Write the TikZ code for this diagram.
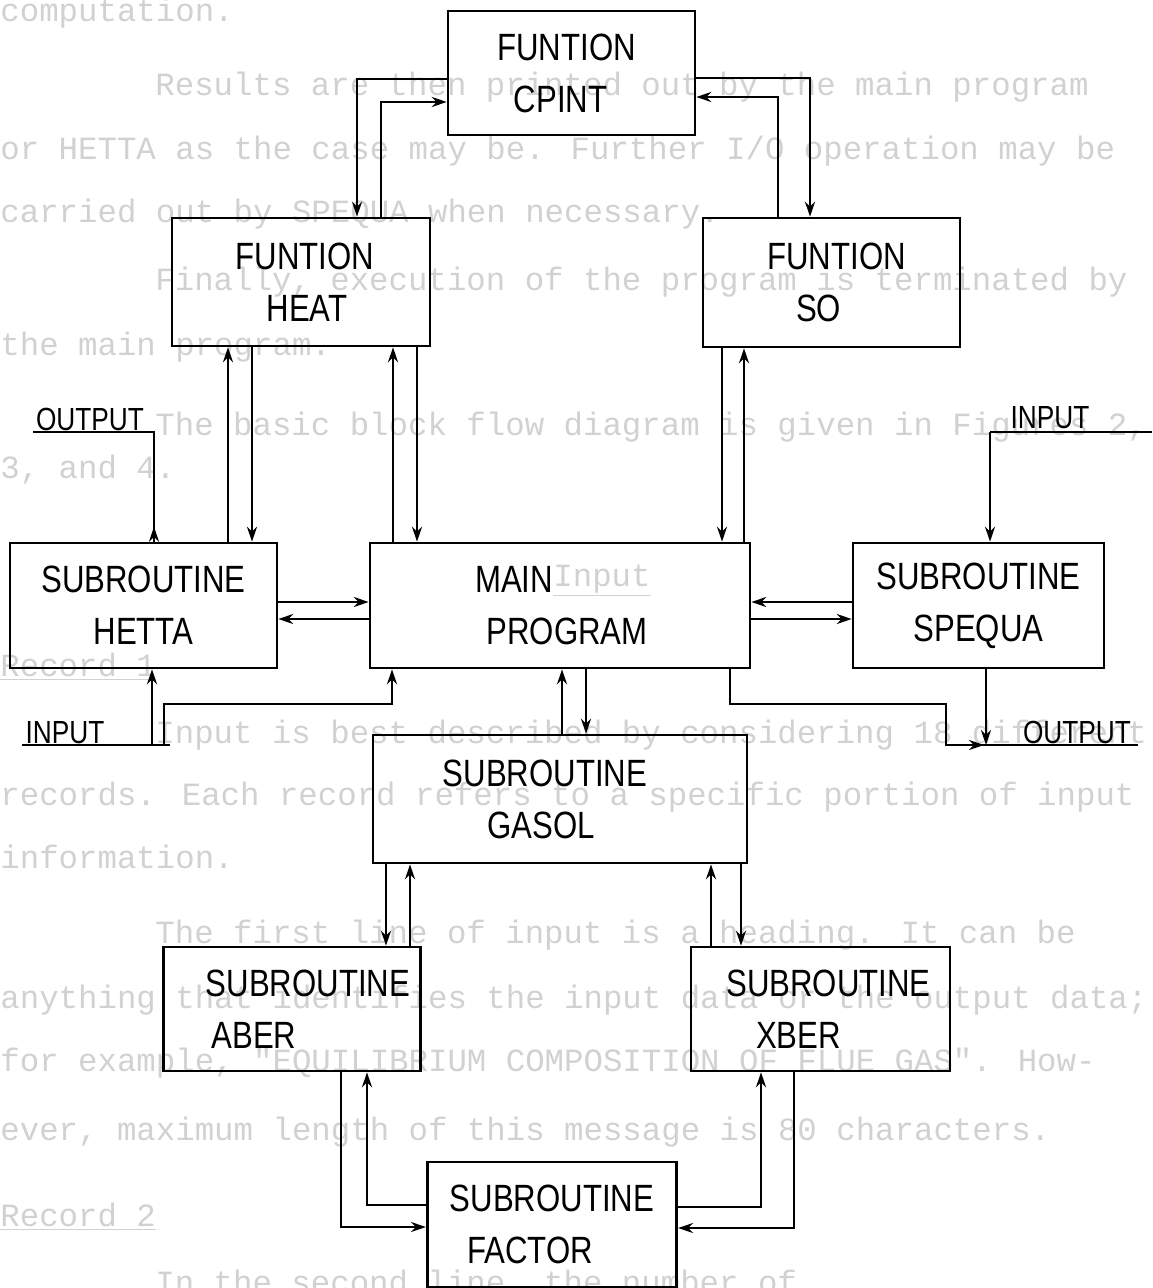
\documentclass[tikz,border=0pt]{standalone}
\usepackage{fontspec}
\setmainfont{Liberation Sans}
\newfontfamily\handfont[FakeStretch=0.82]{Liberation Sans}
\newfontfamily\typefont{Liberation Mono}
\usetikzlibrary{arrows.meta}
\begin{document}
\begin{tikzpicture}[x=0.5pt,y=-0.5pt,
  box/.style={draw, line width=1.3pt, inner sep=0pt, align=center,
    font=\handfont\fontsize{19}{26}\selectfont},
  conn/.style={line width=1.2pt},
  arr/.style={line width=1.2pt, -{Stealth[length=7.5pt,width=5pt]}},
  lab/.style={font=\handfont\fontsize{16}{16}\selectfont, inner sep=0pt},
  ghost/.style={text=black!18, font=\typefont\fontsize{16.2}{16.2}\selectfont,
    anchor=base west, inner sep=0pt}]
\useasboundingbox (0,0) rectangle (1152,1288);

% faint show-through text of the page
\node[ghost] (g1) at (0,22) {computation.};
\node[ghost] (g2) at (155,96) {Results are then printed out by the main program};
\node[ghost] (g3) at (0,160) {or HETTA as the case may be.  Further I/O operation may be};
\node[ghost] (g4) at (0,223) {carried out by SPEQUA when necessary.};
\node[ghost] (g5) at (155,291) {Finally, execution of the program is terminated by};
\node[ghost] (g6) at (0,356) {the main program.};
\node[ghost] (g7) at (155,436) {The basic block flow diagram is given in Figures 2,};
\node[ghost] (g8) at (0,478) {3, and 4.};
\node[ghost] (g9) at (553,586) {\underline{Input}};
\node[ghost] (g10) at (0,676) {\underline{Record 1}};
\node[ghost] (g11) at (155,743) {Input is best described by considering 18 different};
\node[ghost] (g12) at (0,805) {records.  Each record refers to a specific portion of input};
\node[ghost] (g13) at (0,868) {information.};
\node[ghost] (g14) at (155,943) {The first line of input is a heading.  It can be};
\node[ghost] (g15) at (0,1008) {anything that identifies the input data or the output data;};
\node[ghost] (g16) at (0,1071) {for example, "EQUILIBRIUM COMPOSITION OF FLUE GAS".  How-};
\node[ghost] (g17) at (0,1140) {ever, maximum length of this message is 80 characters.};
\node[ghost] (g18) at (0,1226) {\underline{Record 2}};
\node[ghost] (g19) at (155,1293) {In the second line, the number of};

% boxes
\node[box, minimum width=123.5pt, minimum height=62pt] (cpint) at (571.5,73)
  {FUNTION\hspace*{5pt}\\CPINT\hspace*{11pt}};
\node[box, minimum width=129pt, minimum height=64pt] (heat) at (301,282)
  {\hspace*{4pt}FUNTION\\\hspace*{6pt}HEAT};
\node[box, minimum width=128.5pt, minimum height=64.5pt] (so) at (831.5,282.5)
  {\hspace*{5pt}FUNTION\\SO\hspace*{13pt}};
\node[box, minimum width=133.5pt, minimum height=62.5pt] (hetta) at (143.5,605.5)
  {SUBROUTINE\\HETTA};
\node[box, minimum width=190pt, minimum height=62.5pt] (main) at (560,605.5)
  {MAIN\hspace*{46pt}\\PROGRAM\hspace*{-7pt}};
\node[box, minimum width=125.5pt, minimum height=62.5pt] (spequa) at (978.5,605.5)
  {SUBROUTINE\\SPEQUA};
\node[box, minimum width=187pt, minimum height=64pt] (gasol) at (560,799)
  {SUBROUTINE\hspace*{15pt}\\GASOL\hspace*{19pt}};
\node[box, minimum width=128.75pt, minimum height=62pt] (aber) at (292,1009)
  {\hspace*{16pt}SUBROUTINE\\ABER\hspace*{38pt}};
\node[box, minimum width=129.5pt, minimum height=62pt] (xber) at (820.5,1009)
  {\hspace*{8pt}SUBROUTINE\\XBER\hspace*{22pt}};
\node[box, minimum width=124.75pt, minimum height=62.5pt] (factor) at (552,1224.5)
  {SUBROUTINE\\FACTOR\hspace*{22pt}};

% input / output labels
\node[lab] (outL) at (90,419) {OUTPUT};
\node[lab] (inL) at (65,733) {INPUT};
\node[lab] (inR) at (1050,418) {INPUT};
\node[lab] (outR) at (1077,732) {OUTPUT};
\coordinate (outLa) at (33,432);
\coordinate (outLb) at (154,432);
\coordinate (inLa) at (22,745);
\coordinate (inLb) at (170,745);
\coordinate (inRa) at (990,432);
\coordinate (inRb) at (1152,432);
\coordinate (outRa) at (945,745);
\coordinate (outRb) at (1138,745);

% CPINT <-> HEAT
\draw[arr] (cpint.west |- 0,79) -- (357,79) -- (heat.north -| 357,0);
\draw[arr] (heat.north -| 381,0) -- (381,102) -- (cpint.west |- 0,102);
% CPINT <-> SO
\draw[arr] (cpint.east |- 0,78) -- (810,78) -- (so.north -| 810,0);
\draw[arr] (so.north -| 778,0) -- (778,97) -- (cpint.east |- 0,97);
% HEAT <-> HETTA
\draw[arr] (hetta.north -| 228,0) -- (heat.south -| 228,0);
\draw[arr] (heat.south -| 252,0) -- (hetta.north -| 252,0);
% HEAT <-> MAIN
\draw[arr] (main.north -| 393,0) -- (heat.south -| 393,0);
\draw[arr] (heat.south -| 417,0) -- (main.north -| 417,0);
% SO <-> MAIN
\draw[arr] (so.south -| 722,0) -- (main.north -| 722,0);
\draw[arr] (main.north -| 744,0) -- (so.south -| 744,0);
% HETTA <-> MAIN
\draw[arr] (hetta.east |- 0,602) -- (main.west |- 0,602);
\draw[arr] (main.west |- 0,619) -- (hetta.east |- 0,619);
% SPEQUA <-> MAIN
\draw[arr] (spequa.west |- 0,602) -- (main.east |- 0,602);
\draw[arr] (main.east |- 0,619) -- (spequa.west |- 0,619);
% HETTA -> OUTPUT
\draw[conn] (outLa) -- (outLb) -- (hetta.north -| outLb);
\draw[arr] (hetta.north -| outLb) -- ++(0,-15);
% INPUT -> HETTA, INPUT -> MAIN
\draw[conn] (inLa) -- (inLb);
\draw[arr] (152,745) -- (hetta.south -| 152,0);
\draw[arr] (164,745) -- (164,704) -- (392,704) -- (main.south -| 392,0);
% INPUT -> SPEQUA
\draw[conn] (inRb) -- (inRa);
\draw[arr] (inRa) -- (spequa.north -| inRa);
% SPEQUA -> OUTPUT, MAIN -> OUTPUT
\draw[conn] (outRa) -- (outRb);
\draw[arr] (spequa.south -| 986,0) -- (986,745);
\draw[arr] (main.south -| 730,0) -- (730,704) -- (946,704) -- (946,745) -- (984,745);
% MAIN <-> GASOL
\draw[arr] (gasol.north -| 562,0) -- (main.south -| 562,0);
\draw[arr] (main.south -| 586,0) -- (gasol.north -| 586,0);
% GASOL <-> ABER
\draw[arr] (gasol.south -| 386,0) -- (aber.north -| 386,0);
\draw[arr] (aber.north -| 410,0) -- (gasol.south -| 410,0);
% GASOL <-> XBER
\draw[arr] (xber.north -| 711,0) -- (gasol.south -| 711,0);
\draw[arr] (gasol.south -| 741,0) -- (xber.north -| 741,0);
% ABER <-> FACTOR
\draw[arr] (aber.south -| 341,0) -- (341,1227) -- (factor.west |- 0,1227);
\draw[arr] (factor.west |- 0,1205) -- (367,1205) -- (aber.south -| 367,0);
% XBER <-> FACTOR
\draw[arr] (factor.east |- 0,1207) -- (761,1207) -- (xber.south -| 761,0);
\draw[arr] (xber.south -| 794,0) -- (794,1228) -- (factor.east |- 0,1228);
\end{tikzpicture}
\end{document}
